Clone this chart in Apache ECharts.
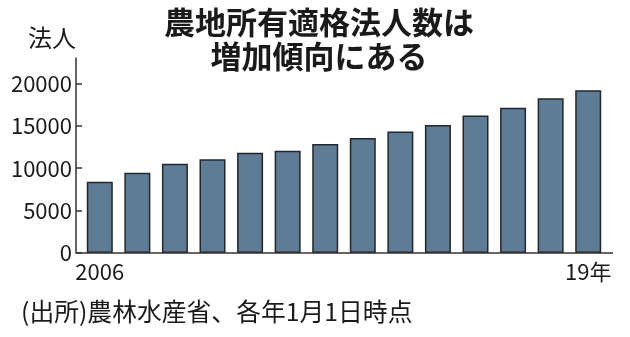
<!DOCTYPE html>
<html><head><meta charset="utf-8">
<script src="https://cdn.jsdelivr.net/npm/echarts@6/dist/echarts.min.js"></script>
<style>html,body{margin:0;padding:0;background:#fff}#c{width:630px;height:337px}</style>
</head><body><div id="c"></div>
<script>
const years = ['2006','2007','2008','2009','2010','2011','2012','2013','2014','2015','2016','2017','2018','2019'];
const xTickLabels = ['2006','','','','','','','','','','','','','19年'];
const corporations = [8400,9470,10520,11060,11830,12050,12860,13560,14330,15110,16210,17140,18240,19210];
const yTicks = [0,5000,10000,15000,20000];
const titleText = '農地所有適格法人数は\n増加傾向にある';
const unitText = '法人';
const sourceText = '(出所)農林水産省、各年1月1日時点';

const CJK_FONT = "'Noto Sans CJK JP',sans-serif";
const chart = echarts.init(document.getElementById('c'), null, {renderer:'canvas'});
chart.setOption({
  animation:false,
  backgroundColor:'#fff',
  title:{text:titleText,left:314,top:0,textAlign:'center',
    textStyle:{fontFamily:CJK_FONT,fontWeight:'bold',fontSize:31,lineHeight:34,color:'#1a1a1a'}},
  grid:{left:81,right:23,top:58,bottom:84},
  xAxis:{type:'category',data:years,
    axisLine:{show:false},axisTick:{show:false},
    axisLabel:{interval:0,margin:8,fontFamily:CJK_FONT,fontSize:22,color:'#1a1a1a',
      formatter:(v,i)=>xTickLabels[i]}},
  yAxis:{type:'value',min:0,max:23000,offset:5,splitLine:{show:false},
    axisLine:{show:true,lineStyle:{color:'#333',width:1.5}},
    axisTick:{show:true,inside:true,length:6,customValues:yTicks,lineStyle:{color:'#333',width:1.5}},
    axisLabel:{customValues:yTicks,margin:4,fontFamily:CJK_FONT,fontSize:22,color:'#1a1a1a',
      formatter:v=>String(v)}},
  series:[{type:'bar',data:corporations,barWidth:26,
    itemStyle:{color:'#5f7c96',borderColor:'#262626',borderWidth:1.5}}],
  graphic:[
    {type:'line',shape:{x1:76,y1:253,x2:613,y2:253},style:{stroke:'#333',lineWidth:1.5},z:10},
    {type:'text',left:28,top:26,style:{text:unitText,font:"24px 'Noto Sans CJK JP'",fill:'#1a1a1a'}},
    {type:'text',left:21,top:299,style:{text:sourceText,font:"24.8px 'Noto Sans CJK JP'",fill:'#1a1a1a'}}
  ]
});
</script></body></html>
